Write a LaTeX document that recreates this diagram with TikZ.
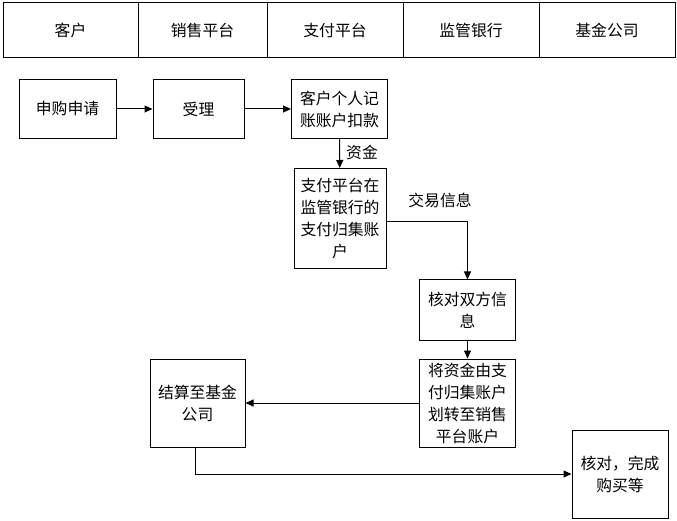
\documentclass[tikz,border=0pt]{standalone}
\usepackage{fontspec}
\setmainfont{Noto Sans CJK SC}
\usetikzlibrary{arrows.meta}
\begin{document}
\begin{tikzpicture}[x=1pt,y=-1pt,
  every node/.style={font=\fontsize{15.8}{22}\selectfont},
  box/.style={draw=black,line width=1pt,align=center,inner sep=0pt},
  head/.style={draw=black,line width=1pt,minimum height=55pt,inner sep=0pt},
  conn/.style={draw=black,line width=1pt,-{Triangle[length=8pt,width=7pt]}},
  lbl/.style={inner sep=1pt}]
\useasboundingbox (0,0) rectangle (677,521);
\fill[white] (0,0) rectangle (677,521);
% header
\node[head,minimum width=135pt] (h1) at (70.5,30.5) {客户};
\node[head,minimum width=129pt] (h2) at (202.5,30.5) {销售平台};
\node[head,minimum width=136pt] (h3) at (335,30.5) {支付平台};
\node[head,minimum width=136pt] (h4) at (471,30.5) {监管银行};
\node[head,minimum width=136pt] (h5) at (607,30.5) {基金公司};
% boxes
\node[box,minimum width=97pt,minimum height=59pt] (n1) at (67.5,109) {申购申请};
\node[box,minimum width=91pt,minimum height=59pt] (n2) at (198.5,109) {受理};
\node[box,minimum width=96pt,minimum height=59pt] (n3) at (339.5,109) {客户个人记\\账账户扣款};
\node[box,minimum width=92pt,minimum height=100pt] (n4) at (340,218.5) {支付平台在\\监管银行的\\支付归集账\\户};
\node[box,minimum width=96pt,minimum height=60pt] (n5) at (467.5,310) {核对双方信\\息};
\node[box,minimum width=96pt,minimum height=88pt] (n6) at (467.5,403) {将资金由支\\付归集账户\\划转至销售\\平台账户};
\node[box,minimum width=95pt,minimum height=88pt] (n7) at (197.5,403) {结算至基金\\公司};
\node[box,minimum width=96pt,minimum height=88pt] (n8) at (620,474) {核对，完成\\购买等};
% connectors
\draw[conn] (n1) -- (n2);
\draw[conn] (n2) -- (n3);
\draw[conn] (n3) -- (n4);
\draw[conn] ([yshift=-3pt]n4.east) -| (n5.north);
\draw[conn] (n5) -- (n6);
\draw[conn] (n6) -- (n7);
\draw[conn] ([xshift=-2pt]n7.south) |- (n8.west);
% labels
\node[lbl] (l1) at (362,152) {资金};
\node[lbl] (l2) at (440,200) {交易信息};
\end{tikzpicture}
\end{document}
